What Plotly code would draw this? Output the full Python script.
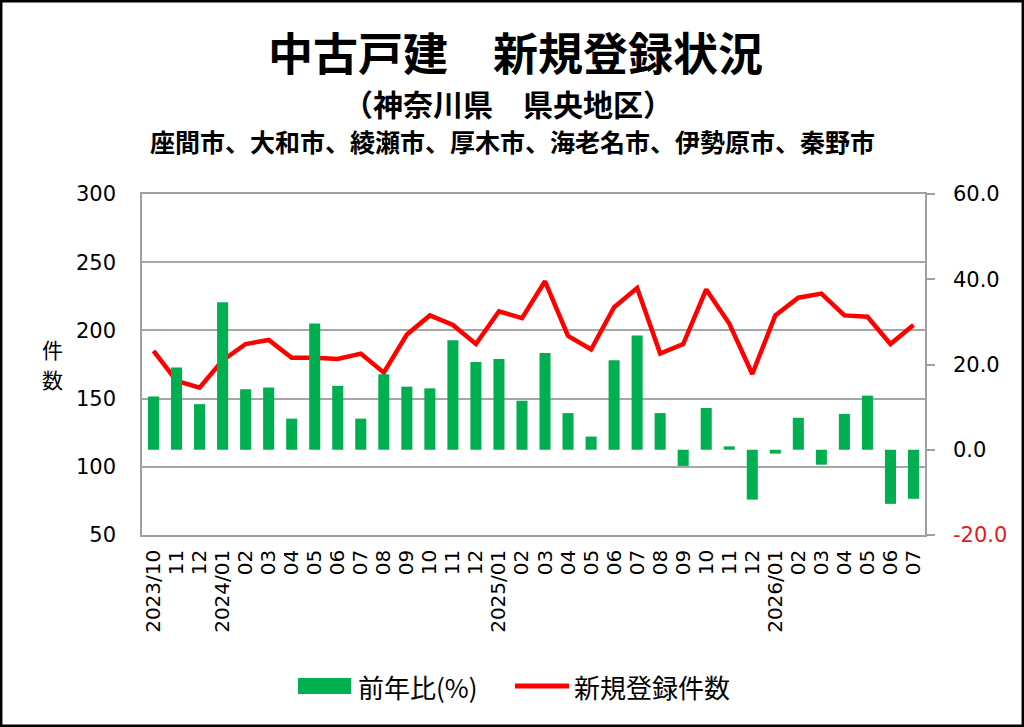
import plotly.graph_objects as go

months = ["2023/10", "11", "12",
          "2024/01", "02", "03", "04", "05", "06", "07", "08", "09", "10", "11", "12",
          "2025/01", "02", "03", "04", "05", "06", "07", "08", "09", "10", "11", "12",
          "2026/01", "02", "03", "04", "05", "06", "07"]
# unique category keys (labels repeat across years)
keys = [f"{i:02d}" for i in range(len(months))]

yoy_pct = [12.5, 19.3, 10.7, 34.6, 14.2, 14.6, 7.3, 29.6, 15.0, 7.3, 17.7, 14.8, 14.4,
           25.7, 20.6, 21.3, 11.5, 22.7, 8.6, 3.1, 21.0, 26.8, 8.6, -3.8, 9.8, 0.8,
           -11.7, -0.9, 7.5, -3.5, 8.4, 12.7, -12.7, -11.5]

new_listings = [185, 163, 158, 178, 190, 193, 180, 180, 179, 183, 169, 197, 211,
                204, 190, 214, 209, 236, 196, 186, 217, 231, 183, 190, 230, 205,
                168, 211, 224, 227, 211, 210, 190, 204]

left_ticks = [50, 100, 150, 200, 250, 300]
right_ticks = [-20, 0, 20, 40, 60]
right_ticktext = ['<span style="color:#E0201B">-20.0</span>', "0.0", "20.0", "40.0", "60.0"]

bar_name = "前年比(%)"
line_name = "新規登録件数"
BAR_COLOR = "#00B050"
LINE_COLOR = "#FF0000"

W, H = 1024, 727
L, R, T, B = 142, 99, 194, 192
pw, ph = W - L - R, H - T - B


def px(x):
    return (x - L) / pw


def py(y):
    return (H - B - y) / ph


fig = go.Figure()
fig.add_trace(go.Bar(
    x=keys, y=yoy_pct, name=bar_name, yaxis="y2",
    marker=dict(color=BAR_COLOR, line=dict(width=0)),
))
fig.add_trace(go.Scatter(
    x=keys, y=new_listings, name=line_name, mode="lines",
    line=dict(color=LINE_COLOR, width=4.5),
))

font = "DejaVu Sans, sans-serif"
cjk = "Noto Sans CJK JP, sans-serif"

fig.update_layout(
    width=W, height=H,
    margin=dict(l=L, r=R, t=T, b=B),
    paper_bgcolor="white", plot_bgcolor="white",
    bargap=0.52,
    font=dict(family=font, size=21, color="black"),
    showlegend=False,
    xaxis=dict(
        type="category", tickmode="array", tickvals=keys, ticktext=months,
        tickangle=-90, tickfont=dict(size=20, family=font),
        showline=True, linecolor="#A0A0A0", linewidth=1.5, mirror=True,
        showgrid=False, ticks="", automargin=False, ticklabelstandoff=5,
    ),
    yaxis=dict(
        range=[50, 300], tickvals=left_ticks, showgrid=True, gridcolor="#A6A6A6",
        gridwidth=1.5, showline=True, linecolor="#A0A0A0", linewidth=1.5,
        ticks="", tickfont=dict(size=21), zeroline=False, automargin=False,
        ticklabelstandoff=20,
    ),
    yaxis2=dict(
        range=[-20, 60], tickvals=right_ticks, ticktext=right_ticktext,
        overlaying="y", side="right", showgrid=False, zeroline=False,
        showline=True, linecolor="#A0A0A0", linewidth=1.5,
        ticks="outside", ticklen=8, tickcolor="#A0A0A0", tickwidth=1.5,
        tickfont=dict(size=21), automargin=False, ticklabelstandoff=14,
    ),
    annotations=[
        dict(text="<b>中古戸建　新規登録状況</b>", xref="paper", yref="paper",
             x=px(515), y=py(52), xanchor="center", yanchor="middle",
             showarrow=False, font=dict(family=cjk, size=45, color="black")),
        dict(text="<b>（神奈川県　県央地区）</b>", xref="paper", yref="paper",
             x=px(508), y=py(103), xanchor="center", yanchor="middle",
             showarrow=False, font=dict(family=cjk, size=30, color="black")),
        dict(text="<b>座間市、大和市、綾瀬市、厚木市、海老名市、伊勢原市、秦野市</b>", xref="paper", yref="paper",
             x=px(512), y=py(141), xanchor="center", yanchor="middle",
             showarrow=False, font=dict(family=cjk, size=25, color="black")),
        dict(text="件", xref="paper", yref="paper",
             x=px(52), y=py(349), xanchor="center", yanchor="middle",
             showarrow=False, font=dict(family=cjk, size=21, color="black")),
        dict(text="数", xref="paper", yref="paper",
             x=px(52), y=py(379), xanchor="center", yanchor="middle",
             showarrow=False, font=dict(family=cjk, size=21, color="black")),
        # legend labels
        dict(text=bar_name, xref="paper", yref="paper",
             x=px(356), y=py(686), xanchor="left", yanchor="middle",
             showarrow=False, font=dict(family=cjk, size=26, color="black")),
        dict(text=line_name, xref="paper", yref="paper",
             x=px(572), y=py(686), xanchor="left", yanchor="middle",
             showarrow=False, font=dict(family=cjk, size=26, color="black")),
    ],
    shapes=[
        # legend swatches
        dict(type="rect", xref="paper", yref="paper",
             x0=px(298), x1=px(351), y0=py(694), y1=py(678),
             line=dict(width=0), fillcolor=BAR_COLOR),
        dict(type="line", xref="paper", yref="paper",
             x0=px(515), x1=px(569), y0=py(686), y1=py(686),
             line=dict(color=LINE_COLOR, width=5)),
        # outer frame
        dict(type="rect", xref="paper", yref="paper",
             x0=px(1.2), x1=px(W - 1.2), y0=py(H - 1.2), y1=py(1.2),
             line=dict(color="black", width=2.5), fillcolor="rgba(0,0,0,0)", layer="above"),
    ],
)

fig.write_html("out.html", config={"displayModeBar": False},
               post_script="document.body.style.margin='0';document.body.style.overflow='hidden';")
